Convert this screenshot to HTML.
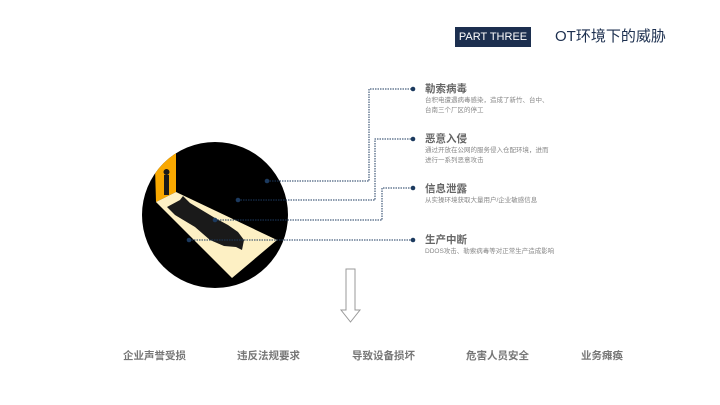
<!DOCTYPE html>
<html><head><meta charset="utf-8"><style>
body{margin:0;width:720px;height:405px;background:#fff;position:relative;overflow:hidden;font-family:"Liberation Sans","Noto Sans CJK SC",sans-serif}
.a{position:absolute;white-space:nowrap}
.t{font-size:10.5px;font-weight:bold;color:#666}
.d{font-size:6.5px;color:#888;line-height:10px}
.b{font-size:10.5px;font-weight:bold;color:#777;top:348px}
</style></head><body>
<div class="a" style="left:455px;top:27px;width:76px;height:20px;background:#1c2f4f;color:#fff;font-size:11px;line-height:20px;text-align:center">PART THREE</div>
<div class="a" style="left:555px;top:27px;font-size:15px;color:#1c2f4f;line-height:20px">OT环境下的威胁</div>
<svg class="a" style="left:0;top:0" width="720" height="405">
<defs><clipPath id="c"><circle cx="215" cy="215" r="73"/></clipPath></defs>
<circle cx="215" cy="215" r="73" fill="#000"/>
<g clip-path="url(#c)">
<polygon points="155,167 176,147 176,192 156,202" fill="#f9a800"/>
<polygon points="156,202 176,192 277,240 232,278" fill="#fdf0c4"/>
<path d="M167,207 L180,200 L183,196 L190,203 L215,218 L228,225 L238,232 L244,240 L242,250 L236,247 L224,246 L210,240 L195,227 L175,215 Z" fill="#1a1a1a"/>
<rect x="164" y="175" width="5" height="20" fill="#1a1a1a"/><circle cx="166.5" cy="172" r="3" fill="#1a1a1a"/>
</g>
<g stroke="#1c3a5f" stroke-width="1" stroke-dasharray="1.5,1" fill="none">
<polyline points="267,181 369,181 369,89 413,89"/>
<polyline points="238,200 375,200 375,139 413,139"/>
<polyline points="215,220 382,220 382,188 413,188"/>
<polyline points="189,240 413,240"/>
</g>
<g fill="#1c3a5f">
<circle cx="267" cy="181" r="2.3"/><circle cx="238" cy="200" r="2.3"/><circle cx="215" cy="220" r="2.3"/><circle cx="189" cy="240" r="2.3"/>
<circle cx="413" cy="89" r="2.3"/><circle cx="413" cy="139" r="2.3"/><circle cx="413" cy="188" r="2.3"/><circle cx="413" cy="240" r="2.3"/>
</g>
<polygon points="346,269 355,269 355,310 360,310 350.5,322 341,310 346,310" fill="#fff" stroke="#999" stroke-width="1"/>
</svg>
<div class="a t" style="left:425px;top:81px">勒索病毒</div>
<div class="a d" style="left:425px;top:96px">台积电遭遇病毒感染，造成了新竹、台中、<br>台南三个厂区的停工</div>
<div class="a t" style="left:425px;top:131px">恶意入侵</div>
<div class="a d" style="left:425px;top:146px">通过开放在公网的服务侵入仓配环境，进而<br>进行一系列恶意攻击</div>
<div class="a t" style="left:425px;top:181px">信息泄露</div>
<div class="a d" style="left:425px;top:196px">从实操环境获取大量用户/企业敏感信息</div>
<div class="a t" style="left:425px;top:232px">生产中断</div>
<div class="a d" style="left:425px;top:247px">DDOS攻击、勒索病毒等对正常生产造成影响</div>
<div class="a b" style="left:123px">企业声誉受损</div>
<div class="a b" style="left:237px">违反法规要求</div>
<div class="a b" style="left:352px">导致设备损坏</div>
<div class="a b" style="left:466px">危害人员安全</div>
<div class="a b" style="left:581px">业务瘫痪</div>
</body></html>
